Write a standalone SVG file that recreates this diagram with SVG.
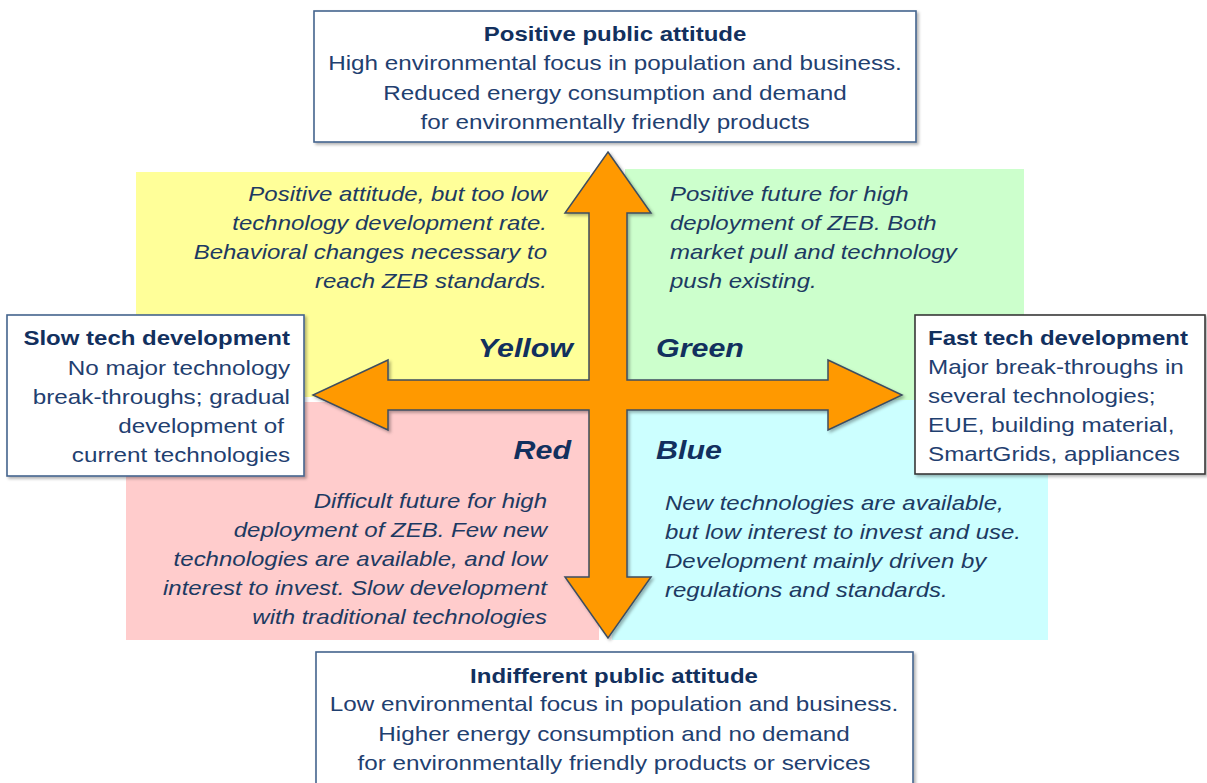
<svg xmlns="http://www.w3.org/2000/svg" width="1207" height="783" viewBox="0 0 1207 783">
<defs>
<style>
text{font-family:"Liberation Sans",Arial,sans-serif;font-size:20.2px;fill:#1f4070}
.b{font-weight:bold;fill:#12305e;font-size:20px}
.i{font-style:italic;fill:#1d3a62;font-size:20px}
.lab{font-style:italic;font-weight:bold;font-size:26px;fill:#12305e}
.m{text-anchor:middle}
.e{text-anchor:end}
.box{fill:#fff;stroke:#44648e;stroke-width:1.6;filter:url(#sh)}
.boxk{fill:#fff;stroke:#3a3a3a;stroke-width:1.6;filter:url(#sh)}
</style>
<filter id="sh" x="-10%" y="-10%" width="120%" height="130%">
<feDropShadow dx="2" dy="2" stdDeviation="1.5" flood-color="#000" flood-opacity="0.3"/>
</filter>
</defs>
<rect width="1207" height="783" fill="#fff"/>

<g id="quadrant-yellow">
<rect x="136" y="172" width="454" height="225" fill="#ffff99"/>
<g transform="translate(547 0) scale(1.2 1)">
<text class="i e" x="0" y="201">Positive attitude, but too low</text>
<text class="i e" x="0" y="230">technology development rate.</text>
<text class="i e" x="0" y="259">Behavioral changes necessary to</text>
<text class="i e" x="0" y="288">reach ZEB standards.</text>
</g>
<g transform="translate(573 0) scale(1.17 1)"><text class="lab e" x="0" y="357">Yellow</text></g>
</g>

<g id="quadrant-green">
<rect x="625" y="169" width="399" height="231" fill="#ccffcc"/>
<g transform="translate(670 0) scale(1.2 1)">
<text class="i" x="0" y="201">Positive future for high</text>
<text class="i" x="0" y="230">deployment of ZEB. Both</text>
<text class="i" x="0" y="259">market pull and technology</text>
<text class="i" x="0" y="288">push existing.</text>
</g>
<g transform="translate(656 0) scale(1.17 1)"><text class="lab" x="0" y="357">Green</text></g>
</g>

<g id="quadrant-red">
<rect x="126" y="402" width="473" height="238" fill="#ffcccc"/>
<g transform="translate(547 0) scale(1.2 1)">
<text class="i e" x="0" y="508">Difficult future for high</text>
<text class="i e" x="0" y="537">deployment of ZEB. Few new</text>
<text class="i e" x="0" y="566">technologies are available, and low</text>
<text class="i e" x="0" y="595">interest to invest. Slow development</text>
<text class="i e" x="0" y="624">with traditional technologies</text>
</g>
<g transform="translate(571 0) scale(1.17 1)"><text class="lab e" x="0" y="459">Red</text></g>
</g>

<g id="quadrant-blue">
<rect x="612" y="400" width="436" height="240" fill="#ccffff"/>
<g transform="translate(665 0) scale(1.2 1)">
<text class="i" x="0" y="510">New technologies are available,</text>
<text class="i" x="0" y="539">but low interest to invest and use.</text>
<text class="i" x="0" y="568">Development mainly driven by</text>
<text class="i" x="0" y="597">regulations and standards.</text>
</g>
<g transform="translate(656 0) scale(1.17 1)"><text class="lab" x="0" y="459">Blue</text></g>
</g>

<g id="connectors">
<polygon points="608,152 651,213 627,213 627,380 828,380 828,360 902,395 828,430 828,410 627,410 627,577 651,577 608,638 565,577 589,577 589,410 388,410 388,430 313,395 388,360 388,380 589,380 589,213 565,213" fill="#ff9900" stroke="#3e4e60" stroke-width="1.5" stroke-linejoin="miter" filter="url(#sh)"/>
</g>

<g id="node-positive">
<rect class="box" x="314" y="11" width="602" height="131"/>
<g transform="translate(615 0) scale(1.2 1)">
<text class="b m" x="0" y="41">Positive public attitude</text>
<text class="m" x="0" y="70">High environmental focus in population and business.</text>
<text class="m" x="0" y="100">Reduced energy consumption and demand</text>
<text class="m" x="0" y="129">for environmentally friendly products</text>
</g>
</g>

<g id="node-slow">
<rect class="box" x="7" y="315" width="297" height="161"/>
<g transform="translate(290 0) scale(1.2 1)">
<text class="b e" x="0" y="345">Slow tech development</text>
<text class="e" x="0" y="375">No major technology</text>
<text class="e" x="0" y="404">break-throughs; gradual</text>
<text class="e" x="-5" y="433">development of</text>
<text class="e" x="0" y="462">current technologies</text>
</g>
</g>

<g id="node-fast">
<rect class="boxk" x="915" y="315" width="290" height="159"/>
<g transform="translate(928 0) scale(1.2 1)">
<text class="b" x="0" y="345">Fast tech development</text>
<text x="0" y="374">Major break-throughs in</text>
<text x="0" y="403">several technologies;</text>
<text x="0" y="432">EUE, building material,</text>
<text x="0" y="461">SmartGrids, appliances</text>
</g>
</g>

<g id="node-indifferent">
<rect class="box" x="316" y="652" width="597" height="140"/>
<g transform="translate(614 0) scale(1.2 1)">
<text class="b m" x="0" y="683">Indifferent public attitude</text>
<text class="m" x="0" y="711">Low environmental focus in population and business.</text>
<text class="m" x="0" y="741">Higher energy consumption and no demand</text>
<text class="m" x="0" y="770">for environmentally friendly products or services</text>
</g>
</g>
</svg>
